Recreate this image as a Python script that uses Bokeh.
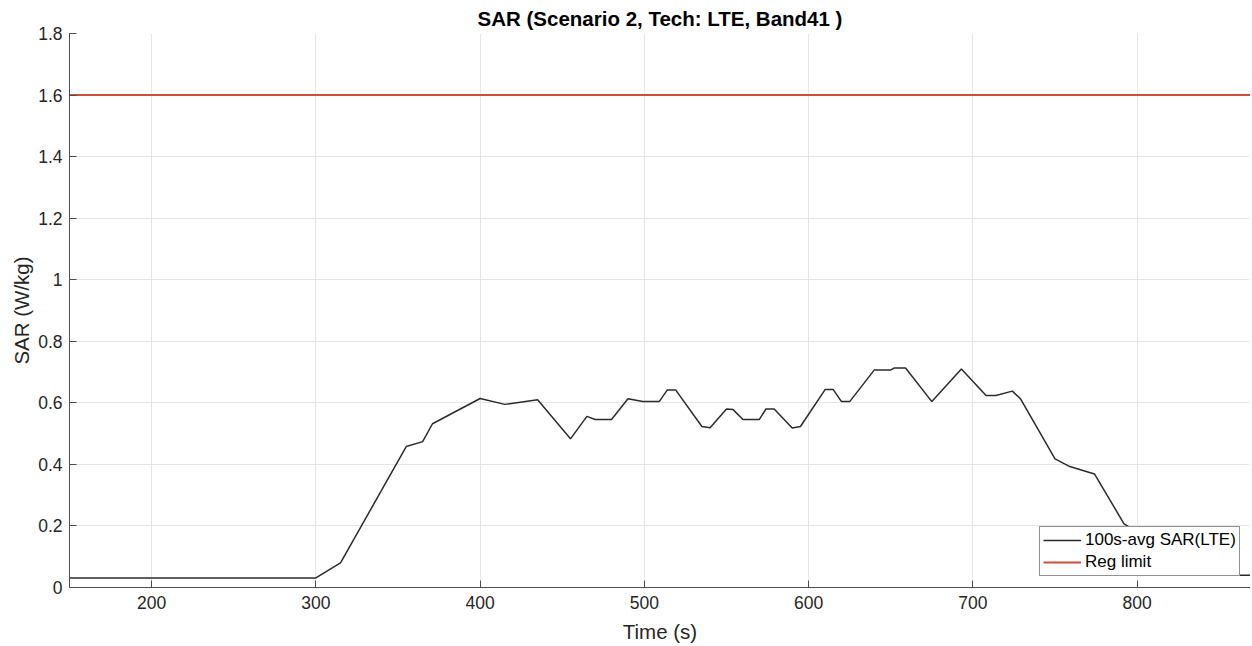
from bokeh.plotting import figure
from bokeh.embed import file_html
from bokeh.resources import INLINE
from bokeh.models import FixedTicker, CustomJSTickFormatter, Legend, LegendItem

# ---- data ----
time_s = [150, 300, 315, 355, 365, 371, 400, 415, 435, 455, 465, 470, 480, 490,
          499, 509, 514, 519, 535, 540, 550, 554, 560, 570, 574, 579, 590, 595,
          610, 615, 620, 625, 640, 650, 652, 659, 675, 693, 708, 714, 724, 729,
          750, 759, 774, 792, 798, 808, 870]
sar_avg = [0.031, 0.031, 0.080, 0.458, 0.474, 0.532, 0.614, 0.595, 0.610, 0.483,
           0.556, 0.546, 0.546, 0.613, 0.604, 0.604, 0.642, 0.642, 0.523, 0.519,
           0.580, 0.578, 0.546, 0.546, 0.580, 0.580, 0.518, 0.523, 0.643, 0.643,
           0.604, 0.604, 0.707, 0.707, 0.713, 0.713, 0.604, 0.710, 0.624, 0.624,
           0.638, 0.613, 0.418, 0.393, 0.369, 0.207, 0.187, 0.040, 0.040]
reg_time = [150, 870]
reg_limit = [1.6, 1.6]

x_ticks = [200, 300, 400, 500, 600, 700, 800]
y_ticks = [0, 0.2, 0.4, 0.6, 0.8, 1.0, 1.2, 1.4, 1.6, 1.8]

FONT = "Liberation Sans"
TXT = "#262626"

p = figure(width=1250, height=646, x_range=(150, 869), y_range=(0, 1.8),
           output_backend="svg", toolbar_location=None,
           min_border_left=69, min_border_right=0, min_border_top=33,
           min_border_bottom=59)
p.outline_line_color = None
p.background_fill_color = "white"

p.title.text = "SAR (Scenario 2, Tech: LTE, Band41 )"
p.title.align = "center"
p.title.vertical_align = "top"
p.title.text_font = FONT
p.title.text_font_size = "20.5px"
p.title.text_font_style = "bold"
p.title.text_color = "#000000"
p.title.standoff = 4

for ax in (p.xaxis[0], p.yaxis[0]):
    ax.axis_line_color = "#4d4d4d"
    ax.axis_line_width = 1
    ax.major_tick_in = 7
    ax.major_tick_out = 0
    ax.major_tick_line_color = "#4d4d4d"
    ax.minor_tick_line_color = None
    ax.major_label_text_font = FONT
    ax.major_label_text_font_size = "17.5px"
    ax.major_label_text_color = TXT
    ax.axis_label_text_font = FONT
    ax.axis_label_text_font_size = "20.5px"
    ax.axis_label_text_font_style = "normal"
    ax.axis_label_text_color = TXT

p.xaxis.ticker = FixedTicker(ticks=x_ticks)
p.yaxis.ticker = FixedTicker(ticks=y_ticks)
p.yaxis.formatter = CustomJSTickFormatter(code="return tick.toFixed(1).replace(/\\.0$/, '');")
p.xaxis.axis_label = "Time (s)"
p.yaxis.axis_label = "SAR (W/kg)"
p.xaxis.major_label_standoff = 8
p.yaxis.major_label_standoff = 7
p.xaxis.axis_label_standoff = 8
p.yaxis.axis_label_standoff = 2

p.xgrid.grid_line_color = "#e6e6e6"
p.ygrid.grid_line_color = "#e6e6e6"
p.xgrid.grid_line_width = 1
p.ygrid.grid_line_width = 1

r1 = p.line(time_s, sar_avg, line_color="#2b2b2b", line_width=1.5)
r2 = p.line(reg_time, reg_limit, line_color="#c8503c", line_width=2)

legend = Legend(items=[LegendItem(label="100s-avg SAR(LTE)", renderers=[r1]),
                       LegendItem(label="Reg limit", renderers=[r2])],
                location=(970, 11))
legend.border_line_color = "#262626"
legend.border_line_width = 1
legend.background_fill_color = "white"
legend.background_fill_alpha = 1
legend.label_text_font = FONT
legend.label_text_font_size = "17px"
legend.label_text_color = "#000000"
legend.glyph_width = 38
legend.glyph_height = 18
legend.label_height = 18
legend.spacing = 2
legend.padding = 3
legend.margin = 0
legend.label_standoff = 4
p.add_layout(legend)

open("out.html", "w").write(file_html(p, INLINE))
